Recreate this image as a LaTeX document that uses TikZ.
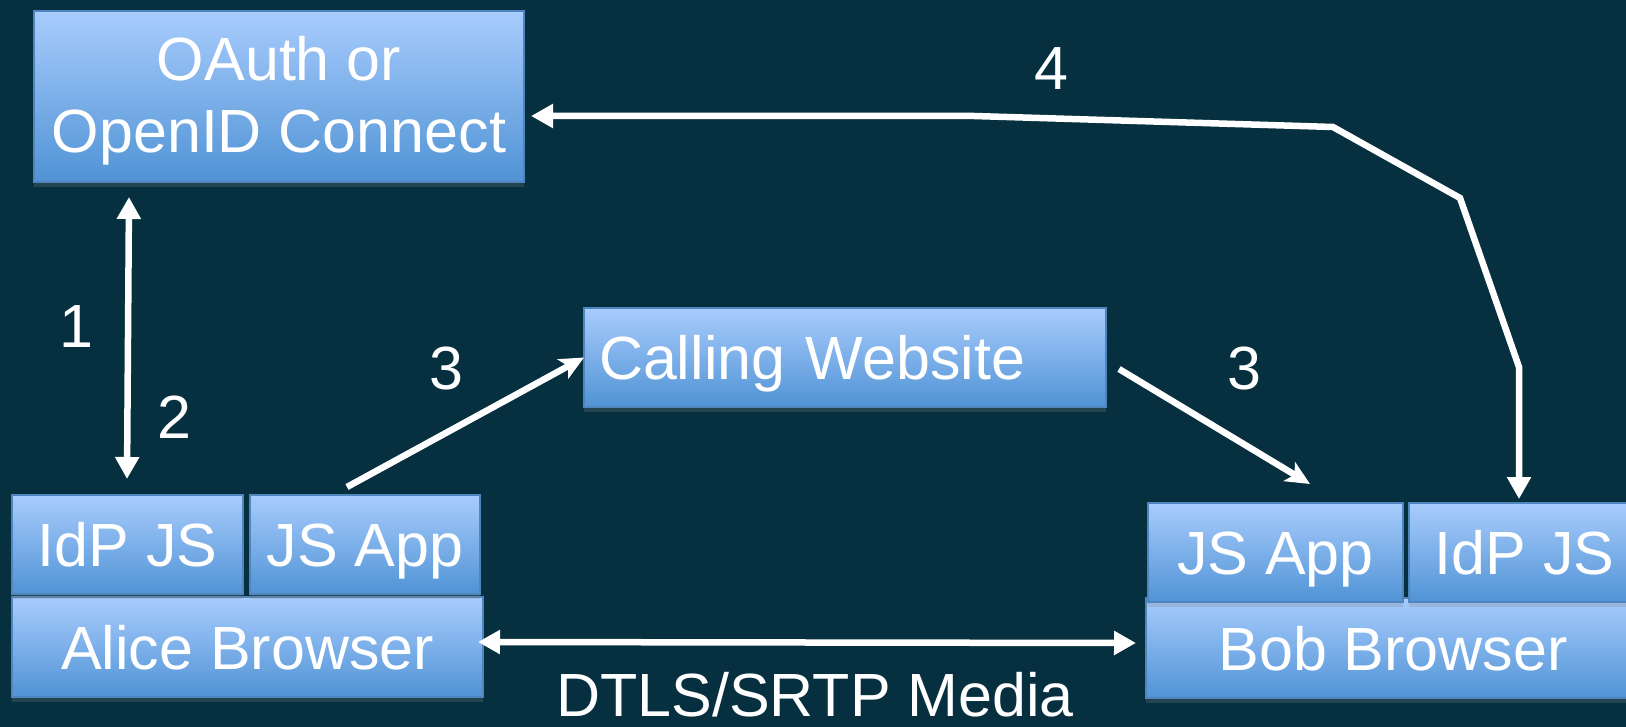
\documentclass[tikz,border=0pt]{standalone}
\usepackage{fontspec}
\setmainfont{Liberation Sans}
\usetikzlibrary{arrows.meta,shadows}
\definecolor{bg}{RGB}{6,48,63}
\definecolor{boxtop}{RGB}{168,204,253}
\definecolor{boxbot}{RGB}{80,147,213}
\definecolor{boxline}{RGB}{79,134,190}
\begin{document}
\begin{tikzpicture}[x=1pt,y=-1pt,
  box/.style={draw=boxline, line width=1.5pt, top color=boxtop, bottom color=boxbot,
    inner sep=0pt, outer sep=0pt, anchor=north west, text=white,
    font=\fontsize{61}{72}\selectfont,
    drop shadow={shadow xshift=0pt, shadow yshift=-5pt, opacity=0.25, fill=gray}},
  one/.style={text height=44pt, text depth=0pt},
  conn/.style={white, line width=6.5pt, line join=miter},
  lbl/.style={text=white, font=\fontsize{61}{72}\selectfont, anchor=base, inner sep=0pt},
  tri/.tip={Triangle[length=22pt,width=23pt]},
  stl/.tip={Stealth[length=24pt,width=22pt,inset=6pt]}
]
\fill[bg] (0,0) rectangle (1626,727);
\useasboundingbox (0,0) rectangle (1626,727);
\clip (0,0) rectangle (1626,727);

% boxes
\node[box, minimum width=490pt, minimum height=171pt, align=center, text depth=5pt] (oauth) at (34,11) {OAuth or\\OpenID Connect};
\node[box, one, minimum height=99pt, text width=492pt, align=left, inner xsep=15pt] (web) at (584,308) {Calling Website};
\node[box, one, minimum width=471pt, minimum height=100pt] (alice) at (12,597) {Alice Browser};
\node[box, one, minimum width=231pt, minimum height=99pt] (idpA) at (12,495) {IdP JS};
\node[box, one, minimum width=230pt, minimum height=99pt] (appA) at (250,495) {JS App};
\node[box, one, minimum width=494pt, minimum height=100pt] (bob) at (1146,598) {Bob Browser};
\node[box, one, minimum width=255pt, minimum height=99pt] (appB) at (1148,503) {JS App};
\node[box, one, minimum width=231pt, minimum height=99pt] (idpB) at (1409,503) {IdP JS};

% connector ends
\coordinate (c1a) at (129,197);
\coordinate (c1b) at (127,479);
\coordinate (c3a) at (347,487);
\coordinate (c3b) at (1119,369);
\coordinate (c3c) at (1310,484);
\coordinate (d1) at (478,642);
\coordinate (d2) at (1136,643);
\coordinate (p0) at (531,116);
\coordinate (p1) at (974,116);
\coordinate (p2) at (1333,127);
\coordinate (p3) at (1460,198);
\coordinate (p4) at (1519,367);
\coordinate (p5) at (1519,499);

% connectors
\draw[conn, tri-tri] (c1a) -- (c1b);
\draw[conn, -stl] (c3a) -- (web.west);
\draw[conn, -stl] (c3b) -- (c3c);
\draw[conn, tri-tri] (d1) -- (d2);
\draw[conn, tri-tri] (p0) -- (p1) -- (p2) -- (p3) -- (p4) -- (p5);

% labels
\node[lbl] (l1) at (76,348) {1};
\node[lbl] (l2) at (174,438) {2};
\node[lbl] (l3a) at (446,390) {3};
\node[lbl] (l3b) at (1244,390) {3};
\node[lbl] (l4) at (1051,90) {4};
\node[lbl] (ldtls) at (815,716) {DTLS/SRTP Media};
\end{tikzpicture}
\end{document}
